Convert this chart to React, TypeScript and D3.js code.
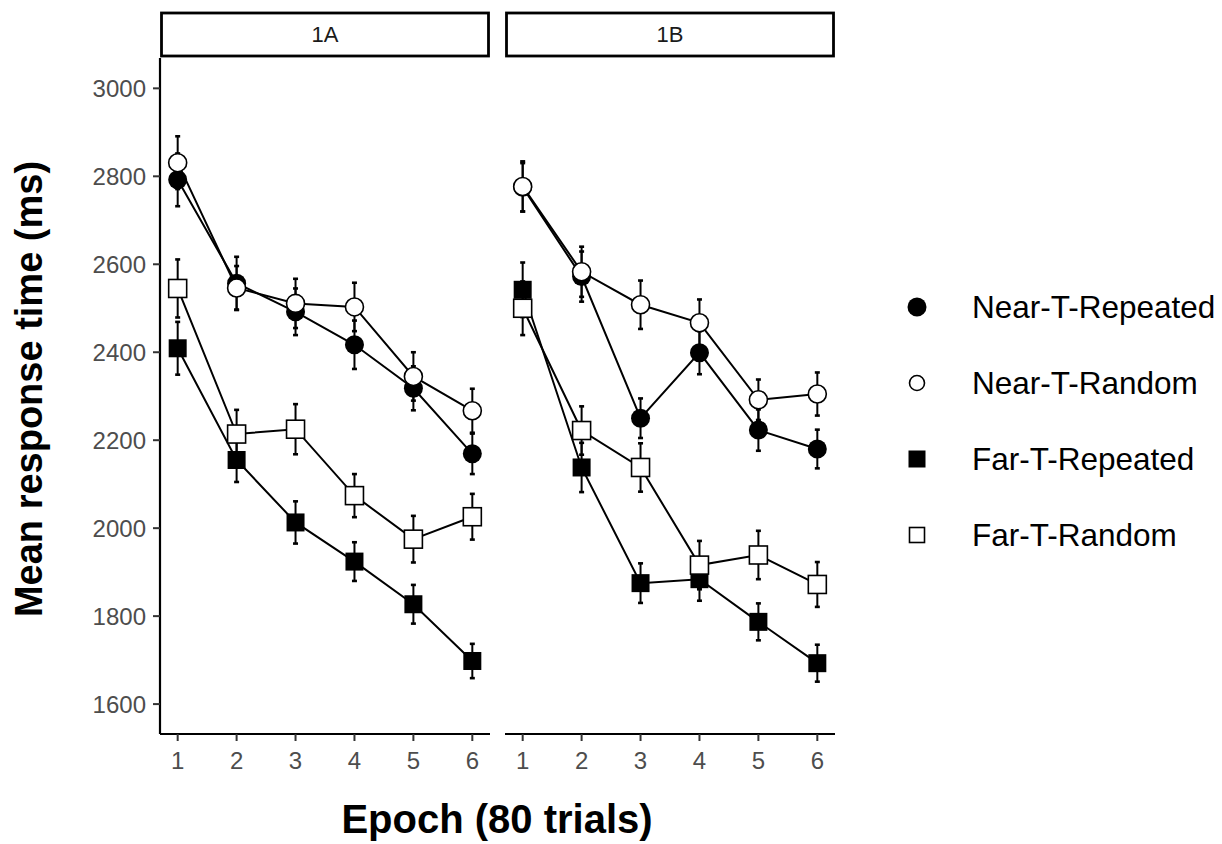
import React, { useEffect } from "react";
import * as d3 from "d3";

// epochs and facet panels
const epochs = [1, 2, 3, 4, 5, 6];
const panels = ["1A", "1B"];
const conditions = ["Near-T-Repeated", "Near-T-Random", "Far-T-Repeated", "Far-T-Random"];
const yTicks = [1600, 1800, 2000, 2200, 2400, 2600, 2800, 3000];

// panel 1A means and standard errors (ms)
const nearRep1A = [2792, 2557, 2492, 2417, 2318, 2169];
const nearRand1A = [2831, 2546, 2511, 2503, 2345, 2267];
const farRep1A = [2409, 2155, 2013, 1924, 1827, 1698];
const farRand1A = [2545, 2214, 2225, 2074, 1975, 2026];
const nearRepSe1A = [60, 60, 53, 55, 50, 46];
const nearRandSe1A = [60, 50, 56, 55, 55, 50];
const farRepSe1A = [60, 50, 48, 44, 44, 39];
const farRandSe1A = [66, 55, 57, 49, 53, 52];

// panel 1B
const nearRep1B = [2775, 2572, 2250, 2399, 2223, 2180];
const nearRand1B = [2777, 2583, 2508, 2467, 2292, 2305];
const farRep1B = [2542, 2138, 1875, 1884, 1787, 1693];
const farRand1B = [2500, 2222, 2138, 1916, 1939, 1872];
const nearRepSe1B = [55, 57, 45, 49, 47, 44];
const nearRandSe1B = [57, 57, 55, 53, 46, 49];
const farRepSe1B = [62, 56, 45, 49, 42, 42];
const farRandSe1B = [61, 55, 55, 55, 55, 51];

const means = {
  "1A": [nearRep1A, nearRand1A, farRep1A, farRand1A],
  "1B": [nearRep1B, nearRand1B, farRep1B, farRand1B],
};
const ses = {
  "1A": [nearRepSe1A, nearRandSe1A, farRepSe1A, farRandSe1A],
  "1B": [nearRepSe1B, nearRandSe1B, farRepSe1B, farRandSe1B],
};

const shapes = [
  { kind: "circle", fill: "#000" },
  { kind: "circle", fill: "#fff" },
  { kind: "square", fill: "#000" },
  { kind: "square", fill: "#fff" },
];

const font = "Arial, 'Liberation Sans', Helvetica, sans-serif";

const panelLeft = [160, 505];
const panelW = 330;
const top = 58;
const bottom = 734;

function Marker({ s, x, y, big }: any) {
  if (s.kind === "circle") {
    const r = big ? 9.5 : s.fill === "#000" ? 9.5 : 8;
    return <circle cx={x} cy={y} r={s.fill === "#000" ? r : r - 0.5} fill={s.fill} stroke="#000" strokeWidth={s.fill === "#000" ? 0 : 1.6} />;
  }
  const h = big ? 9 : s.fill === "#000" ? 8.5 : 7.5;
  return (
    <rect x={x - h} y={y - h} width={h * 2} height={h * 2} fill={s.fill} stroke="#000" strokeWidth={s.fill === "#000" ? 0 : 1.6} />
  );
}

export default function App() {
  useEffect(() => {
    document.body.style.margin = "0";
  }, []);

  const y = d3.scaleLinear().domain([1532, 3069]).range([bottom, top]);

  return (
    <svg width={1222} height={844} style={{ display: "block", background: "#fff" }} fontFamily={font}>
      {panels.map((p, pi) => {
        const x = d3.scaleLinear().domain([0.7, 6.3]).range([panelLeft[pi], panelLeft[pi] + panelW]);
        const line = d3
          .line<number>()
          .x((d, i) => x(epochs[i]))
          .y((d) => y(d));
        return (
          <g key={p}>
            {/* strip */}
            <rect x={panelLeft[pi] + 1.5} y={13} width={panelW - 3} height={43} fill="#fff" stroke="#000" strokeWidth={2.8} />
            <text x={panelLeft[pi] + panelW / 2} y={42} textAnchor="middle" fontSize={22} fill="#1a1a1a">
              {p}
            </text>
            {/* x axis */}
            <line x1={panelLeft[pi]} x2={panelLeft[pi] + panelW} y1={bottom} y2={bottom} stroke="#000" strokeWidth={2.2} />
            {epochs.map((e) => (
              <g key={e}>
                <line x1={x(e)} x2={x(e)} y1={bottom} y2={bottom + 7} stroke="#333" strokeWidth={2} />
                <text x={x(e)} y={bottom + 35} textAnchor="middle" fontSize={24} fill="#4d4d4d">
                  {e}
                </text>
              </g>
            ))}
            {pi === 0 && (
              <g>
                <line x1={panelLeft[0]} x2={panelLeft[0]} y1={top} y2={bottom} stroke="#000" strokeWidth={2.2} />
                {yTicks.map((t) => (
                  <g key={t}>
                    <line x1={panelLeft[0] - 7} x2={panelLeft[0]} y1={y(t)} y2={y(t)} stroke="#333" strokeWidth={2} />
                    <text x={panelLeft[0] - 14} y={y(t) + 8.5} textAnchor="end" fontSize={24} fill="#4d4d4d">
                      {t}
                    </text>
                  </g>
                ))}
              </g>
            )}
            {/* error bars */}
            {conditions.map((c, ci) =>
              means[p][ci].map((m, i) => {
                const se = ses[p][ci][i];
                const cx = x(epochs[i]);
                return (
                  <g key={c + i} stroke="#000">
                    <line x1={cx} x2={cx} y1={y(m - se)} y2={y(m + se)} strokeWidth={2} />
                    <line x1={cx - 2.5} x2={cx + 2.5} y1={y(m - se)} y2={y(m - se)} strokeWidth={2.6} />
                    <line x1={cx - 2.5} x2={cx + 2.5} y1={y(m + se)} y2={y(m + se)} strokeWidth={2.6} />
                  </g>
                );
              })
            )}
            {/* lines */}
            {conditions.map((c, ci) => (
              <path key={c} d={line(means[p][ci]) || ""} fill="none" stroke="#000" strokeWidth={2} />
            ))}
            {/* points */}
            {conditions.map((c, ci) =>
              means[p][ci].map((m, i) => (
                <Marker key={c + i} s={shapes[ci]} x={x(epochs[i])} y={y(m)} big />
              ))
            )}
          </g>
        );
      })}

      {/* axis titles */}
      <text x={497} y={833} textAnchor="middle" fontSize={40} fontWeight="bold" fill="#000">
        Epoch (80 trials)
      </text>
      <text transform={`translate(42,${389}) rotate(-90)`} textAnchor="middle" fontSize={38} fontWeight="bold" fill="#000">
        Mean response time (ms)
      </text>

      {/* legend */}
      {conditions.map((c, ci) => {
        const ly = 307 + ci * 76;
        return (
          <g key={c}>
            <Marker s={shapes[ci]} x={917} y={ly} />
            <text x={972} y={ly + 11} fontSize={31.5} fill="#000">
              {c}
            </text>
          </g>
        );
      })}
    </svg>
  );
}
